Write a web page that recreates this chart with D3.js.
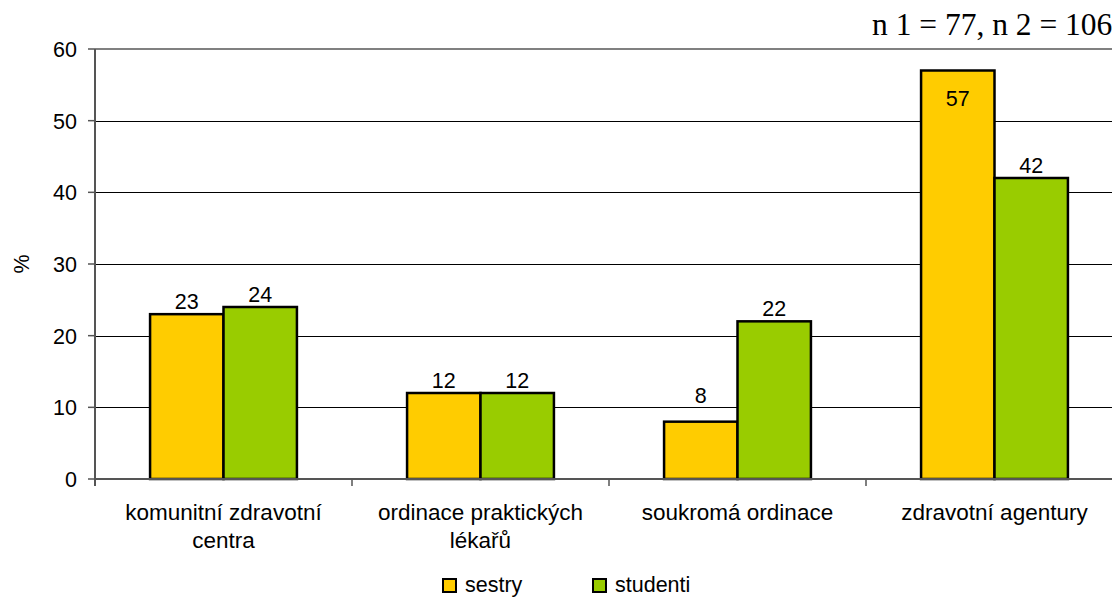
<!DOCTYPE html>
<html>
<head>
<meta charset="utf-8">
<script src="https://cdn.jsdelivr.net/npm/d3@7"></script>
<style>
	body { margin: 0; background: #fff; }
	svg { display: block; font-family: "Liberation Sans", Arial, sans-serif; }
</style>
</head>
<body>
<svg id="chart" width="1112" height="598"></svg>
<script>
var categories = ['komunitní zdravotní centra', 'ordinace praktických lékařů', 'soukromá ordinace', 'zdravotní agentury'];
var seriesNames = ['sestry', 'studenti'];
var sestry = [23, 12, 8, 57];
var studenti = [24, 12, 22, 42];
var yTicks = [0, 10, 20, 30, 40, 50, 60];
var note = 'n 1 = 77, n 2 = 106';

var colors = ['#ffcc00', '#99cc00'];
var fontSize = 21.5;

var svg = d3.select('#chart');

var plotLeft = 95, plotTop = 49, plotBottom = 479, plotRight = 1123;

var x = d3.scaleBand()
	.domain(categories)
	.range([plotLeft, plotRight])
	.paddingInner(0)
	.paddingOuter(0);

var x1 = d3.scaleBand()
	.domain(seriesNames)
	.range([0, x.bandwidth()])
	.paddingInner(0)
	.paddingOuter(0.75);

var y = d3.scaleLinear()
	.domain([0, 60])
	.range([plotBottom, plotTop]);

// GRIDLINES
svg.append('g')
	.selectAll('line')
	.data(yTicks.filter(function(d){ return d > 0 && d < 60; }))
	.enter()
	.append('line')
	.attr('x1', plotLeft)
	.attr('x2', 1112)
	.attr('y1', function(d){ return Math.round(y(d)) + 0.5; })
	.attr('y2', function(d){ return Math.round(y(d)) + 0.5; })
	.attr('stroke', '#000')
	.attr('stroke-width', 1);

// plot area top border
svg.append('line')
	.attr('x1', plotLeft).attr('x2', 1112)
	.attr('y1', y(60)).attr('y2', y(60))
	.attr('stroke', '#808080')
	.attr('stroke-width', 2);

// BARS
var rows = categories.map(function(c, i){
	return [{cat: c, s: seriesNames[0], v: sestry[i], k: 0}, {cat: c, s: seriesNames[1], v: studenti[i], k: 1}];
});

var groups = svg.append('g')
	.selectAll('g')
	.data(rows)
	.enter()
	.append('g')
	.attr('transform', function(d){ return 'translate(' + x(d[0].cat) + ',0)'; });

groups.selectAll('rect')
	.data(function(d){ return d; })
	.enter()
	.append('rect')
	.attr('x', function(d){ return x1(d.s); })
	.attr('y', function(d){ return y(d.v); })
	.attr('width', x1.bandwidth())
	.attr('height', function(d){ return y(0) - y(d.v); })
	.attr('fill', function(d){ return colors[d.k]; })
	.attr('stroke', '#000')
	.attr('stroke-width', 2.5);

// value labels
groups.selectAll('text')
	.data(function(d){ return d; })
	.enter()
	.append('text')
	.attr('x', function(d){ return x1(d.s) + x1.bandwidth() / 2; })
	.attr('y', function(d){
		var t = y(d.v);
		if (t - 30 < plotTop) return t + 35; // no room above, put inside
		var base = t - 5;
		// keep clear of gridline
		yTicks.forEach(function(g){
			var gy = y(g);
			if (gy > base - 14 && gy < base + 1) base = gy - 4;
		});
		return base;
	})
	.attr('text-anchor', 'middle')
	.attr('font-size', fontSize)
	.attr('fill', '#000')
	.text(function(d){ return d.v; });

// Y AXIS
svg.append('line')
	.attr('x1', plotLeft).attr('x2', plotLeft)
	.attr('y1', plotTop).attr('y2', plotBottom + 7)
	.attr('stroke', '#555')
	.attr('stroke-width', 2);

var yt = svg.append('g')
	.selectAll('g')
	.data(yTicks)
	.enter()
	.append('g');

yt.append('line')
	.attr('x1', plotLeft - 7).attr('x2', plotLeft)
	.attr('y1', function(d){ return y(d); })
	.attr('y2', function(d){ return y(d); })
	.attr('stroke', '#555')
	.attr('stroke-width', 1.5);

yt.append('text')
	.attr('x', 77)
	.attr('y', function(d){ return y(d) + 8; })
	.attr('text-anchor', 'end')
	.attr('font-size', fontSize)
	.text(function(d){ return d; });

svg.append('text')
	.attr('transform', 'translate(29,264) rotate(-90)')
	.attr('text-anchor', 'middle')
	.attr('font-size', fontSize)
	.text('%');

// X AXIS
svg.append('line')
	.attr('x1', plotLeft).attr('x2', 1112)
	.attr('y1', plotBottom).attr('y2', plotBottom)
	.attr('stroke', '#555')
	.attr('stroke-width', 2);

svg.append('g')
	.selectAll('line')
	.data(categories)
	.enter()
	.append('line')
	.attr('x1', function(d){ return x(d); })
	.attr('x2', function(d){ return x(d); })
	.attr('y1', plotBottom).attr('y2', plotBottom + 7)
	.attr('stroke', '#555')
	.attr('stroke-width', 1.5);

var catLabels = svg.append('g')
	.selectAll('text')
	.data(categories)
	.enter()
	.append('text')
	.attr('x', function(d){ return x(d) + x.bandwidth() / 2; })
	.attr('y', 520)
	.attr('text-anchor', 'middle')
	.attr('font-size', 22.5)
	.text(function(d){ return d; });

// wrap category labels
catLabels.each(function(){
	var t = d3.select(this);
	var words = t.text().split(' ');
	var cx = t.attr('x');
	t.text(null);
	var line = [];
	var lineNo = 0;
	var span = t.append('tspan').attr('x', cx).attr('y', 520);
	words.forEach(function(w){
		line.push(w);
		span.text(line.join(' '));
		if (span.node().getComputedTextLength() > 235 && line.length > 1) {
			line.pop();
			span.text(line.join(' '));
			line = [w];
			lineNo++;
			span = t.append('tspan').attr('x', cx).attr('y', 520 + lineNo * 28).text(w);
		}
	});
});

// LEGEND
var legX = [443, 593];
var leg = svg.append('g')
	.selectAll('g')
	.data(seriesNames)
	.enter()
	.append('g')
	.attr('transform', function(d, i){ return 'translate(' + legX[i] + ',579)'; });

leg.append('rect')
	.attr('width', 13)
	.attr('height', 13)
	.attr('fill', function(d, i){ return colors[i]; })
	.attr('stroke', '#000')
	.attr('stroke-width', 2);

leg.append('text')
	.attr('x', 22)
	.attr('y', 13)
	.attr('font-size', fontSize)
	.text(function(d){ return d; });

// NOTE
svg.append('text')
	.attr('x', 872)
	.attr('y', 35)
	.attr('font-family', '"Liberation Serif", "Times New Roman", serif')
	.attr('font-size', 31.5)
	.text(note);
</script>
</body>
</html>
